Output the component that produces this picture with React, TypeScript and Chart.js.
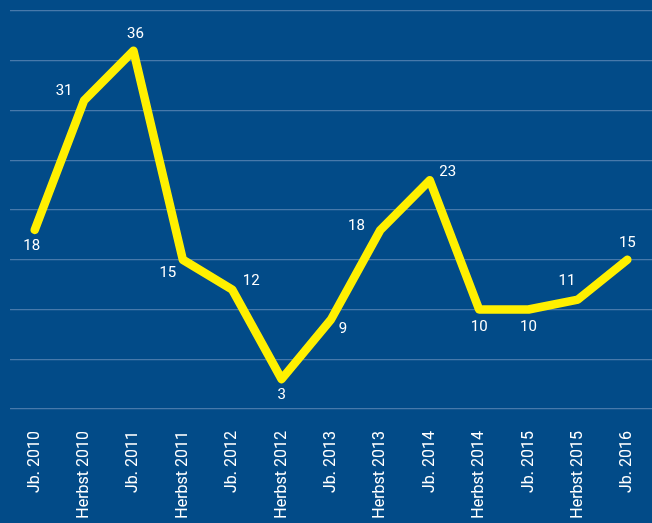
import React, { useEffect, useRef } from "react";
import { Chart, registerables } from "chart.js";

Chart.register(...registerables);

const categories = [
  "Jb. 2010", "Herbst 2010", "Jb. 2011", "Herbst 2011", "Jb. 2012", "Herbst 2012",
  "Jb. 2013", "Herbst 2013", "Jb. 2014", "Herbst 2014", "Jb. 2015", "Herbst 2015", "Jb. 2016",
];
const values = [18, 31, 36, 15, 12, 3, 9, 18, 23, 10, 10, 11, 15];

// label placement relative to each point (style only)
const labelOffsets: [number, number][] = [
  [-3, 16], [-20, -9], [2, -17], [-15, 13], [19, -8], [0, 16], [12, 10],
  [-24, -4], [18, -8], [0, 18], [0, 18], [-11, -18], [0, -17],
];

const BG = "#024b88";

const bgPlugin = {
  id: "bg",
  beforeDraw(chart: any) {
    const ctx = chart.ctx;
    ctx.save();
    ctx.fillStyle = BG;
    ctx.fillRect(0, 0, chart.width, chart.height);
    ctx.restore();
  },
};

const labelPlugin = {
  id: "valueLabels",
  afterDatasetsDraw(chart: any) {
    const ctx = chart.ctx;
    const meta = chart.getDatasetMeta(0);
    ctx.save();
    ctx.fillStyle = "#ffffff";
    ctx.font = "15px Roboto";
    ctx.textAlign = "center";
    ctx.textBaseline = "middle";
    meta.data.forEach((pt: any, i: number) => {
      const [dx, dy] = labelOffsets[i];
      ctx.fillText(String(values[i]), pt.x + dx, pt.y + dy);
    });
    ctx.restore();
  },
};

export default function App() {
  const ref = useRef<HTMLCanvasElement>(null);
  useEffect(() => {
    const chart = new Chart(ref.current!, {
      type: "line",
      data: {
        labels: categories,
        datasets: [
          {
            data: values,
            borderColor: "#fff000",
            borderWidth: 8.5,
            pointRadius: 0,
            tension: 0,
            borderCapStyle: "round",
            borderJoinStyle: "round",
          },
        ],
      },
      options: {
        animation: false,
        responsive: false,
        maintainAspectRatio: false,
        layout: { padding: { left: 10, top: 11, right: 0, bottom: 0 } },
        plugins: { legend: { display: false }, tooltip: { enabled: false } },
        scales: {
          x: {
            offset: true,
            grid: { display: false, drawTicks: false },
            border: { display: false },
            ticks: {
              autoSkip: false,
              maxRotation: 90,
              minRotation: 90,
              padding: 22,
              color: "#ffffff",
              font: { family: "Roboto", size: 16 },
            },
            afterFit(scale: any) {
              scale.height = 114;
              scale.paddingLeft = 0;
              scale.paddingRight = 0;
            },
          },
          y: {
            min: 0,
            max: 40,
            ticks: { display: false, stepSize: 5 },
            grid: { color: "rgba(130,160,200,0.55)", lineWidth: 1.2, drawTicks: false },
            border: { display: false },
            afterFit(scale: any) {
              scale.width = 0;
            },
          },
        },
      },
      plugins: [bgPlugin, labelPlugin],
    });
    return () => chart.destroy();
  }, []);
  return (
    <div style={{ position: "fixed", left: 0, top: 0, width: 652, height: 523 }}>
      <canvas ref={ref} width={652} height={523} style={{ display: "block" }} />
    </div>
  );
}
